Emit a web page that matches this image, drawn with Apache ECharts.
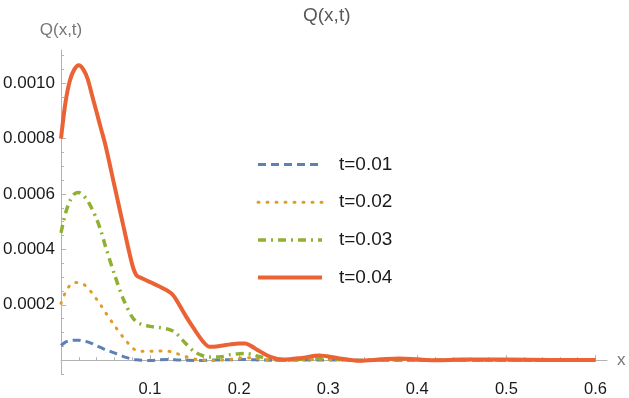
<!DOCTYPE html>
<html>
<head>
<meta charset="utf-8">
<script src="https://cdn.jsdelivr.net/npm/echarts@6/dist/echarts.min.js"></script>
<style>
  html, body { margin: 0; padding: 0; background: #fff; }
  #main { width: 629px; height: 398px; }
</style>
</head>
<body>
<div id="main"></div>
<script>
var SCALE = 1e-4;
var xs = [0, 0.005, 0.01, 0.015, 0.02, 0.025, 0.03, 0.035, 0.04, 0.045,
  0.05, 0.06, 0.07, 0.08, 0.085, 0.09, 0.1, 0.11, 0.12, 0.125,
  0.13, 0.14, 0.15, 0.16, 0.167, 0.18, 0.19, 0.2, 0.207, 0.215,
  0.22, 0.235, 0.25, 0.27, 0.29, 0.31, 0.335, 0.36, 0.38, 0.4,
  0.42, 0.45, 0.5, 0.55, 0.6];
var q001 = [0.53, 0.65, 0.7, 0.72, 0.72, 0.69, 0.66, 0.6, 0.52, 0.45,
  0.38, 0.26, 0.13, 0.04, 0.015, 0.0, -0.01, 0.01, 0.02, 0.015,
  0.01, 0.0, -0.01, -0.01, 0.0, 0.01, 0.015, 0.02, 0.02, 0.015,
  0.01, 0.0, 0.0, 0.005, 0.01, 0.005, 0.0, 0.0, 0.0, 0.0,
  0.0, 0.0, 0.0, 0.0, 0.0];
var q002 = [2.05, 2.45, 2.7, 2.8, 2.8, 2.75, 2.6, 2.42, 2.2, 1.97,
  1.72, 1.25, 0.82, 0.45, 0.34, 0.32, 0.32, 0.33, 0.32, 0.3,
  0.24, 0.13, 0.04, 0.0, -0.02, 0.0, 0.03, 0.07, 0.09, 0.08,
  0.06, 0.01, -0.01, 0.01, 0.03, 0.01, 0.0, 0.005, 0.01, 0.0,
  0.0, 0.0, 0.0, 0.0, 0.0];
var q003 = [4.6, 5.3, 5.75, 6.0, 6.05, 5.95, 5.75, 5.45, 5.1, 4.65,
  4.1, 3.1, 2.2, 1.55, 1.38, 1.3, 1.22, 1.18, 1.12, 1.06,
  0.95, 0.6, 0.3, 0.15, 0.11, 0.12, 0.2, 0.23, 0.24, 0.2,
  0.15, 0.05, 0.0, 0.03, 0.06, 0.03, -0.01, 0.01, 0.02, 0.01,
  0.0, 0.005, 0.005, 0.0, 0.0];
var q004 = [8.0, 9.3, 10.1, 10.5, 10.65, 10.5, 10.15, 9.55, 8.95, 8.35,
  7.75, 6.3, 4.85, 3.45, 3.05, 2.97, 2.82, 2.67, 2.5, 2.38,
  2.15, 1.6, 1.1, 0.65, 0.48, 0.52, 0.57, 0.6, 0.6, 0.48,
  0.38, 0.12, 0.02, 0.08, 0.17, 0.08, -0.02, 0.03, 0.06, 0.03,
  0.0, 0.02, 0.02, 0.01, 0.01];
var seriesNames = ["t=0.01", "t=0.02", "t=0.03", "t=0.04"];

var xMajorTicks = [0.1, 0.2, 0.3, 0.4, 0.5, 0.6];
var xMinorTicks = [0.02, 0.04, 0.06, 0.08, 0.12, 0.14, 0.16, 0.18, 0.22, 0.24, 0.26, 0.28,
  0.32, 0.34, 0.36, 0.38, 0.42, 0.44, 0.46, 0.48, 0.52, 0.54, 0.56, 0.58];
var yMajorTicks = [0.0002, 0.0004, 0.0006, 0.0008, 0.0010];
var yMinorTicks = [-0.00005, 0.00005, 0.0001, 0.00015, 0.00025, 0.0003, 0.00035,
  0.00045, 0.0005, 0.00055, 0.00065, 0.0007, 0.00075, 0.00085, 0.0009, 0.00095,
  0.00105, 0.0011];

function pairs(vals) {
  var out = [];
  for (var i = 0; i < xs.length; i++) {
    out.push([xs[i], vals[i] * SCALE]);
  }
  return out;
}

var FONT = "Liberation Sans, Arial, sans-serif";
var AXIS_GREY = "#b3b3b3";
var X_MIN = 0, X_MAX = 0.613, Y_MIN = -0.00005, Y_MAX = 0.00112;

var myChart = echarts.init(document.getElementById("main"));
myChart.setOption({
  animation: false,
  title: {
    text: "Q(x,t)",
    left: 298,
    top: 1,
    textStyle: { fontFamily: FONT, fontSize: 19, fontWeight: "normal", color: "#595959" }
  },
  grid: { left: 58, right: 22, top: 50, bottom: 7.5 },
  legend: {
    orient: "vertical",
    left: 256,
    top: 155,
    padding: 0,
    itemWidth: 64,
    itemHeight: 20,
    itemGap: 18.7,
    data: seriesNames,
    itemStyle: { opacity: 0 },
    lineStyle: { width: "inherit" },
    textStyle: { fontFamily: FONT, fontSize: 19, color: "#1a1a1a", padding: [0, 0, 0, 12] }
  },
  xAxis: [
    {
      type: "value",
      min: X_MIN,
      max: X_MAX,
      position: "bottom",
      name: "x",
      nameLocation: "end",
      nameGap: 10,
      nameTextStyle: { fontFamily: FONT, fontSize: 17, color: "#777" },
      axisLine: { onZero: true, lineStyle: { color: AXIS_GREY, width: 1 } },
      axisTick: { show: true, inside: true, length: 5, customValues: xMajorTicks, lineStyle: { color: AXIS_GREY } },
      axisLabel: {
        customValues: xMajorTicks,
        margin: 7,
        fontFamily: FONT,
        fontSize: 16.5,
        color: "#1a1a1a",
        formatter: function (v) { return v.toFixed(1); }
      },
      splitLine: { show: false }
    },
    {
      type: "value",
      min: X_MIN,
      max: X_MAX,
      position: "bottom",
      axisLine: { show: false, onZero: true },
      axisTick: { show: true, inside: true, length: 3, customValues: xMinorTicks, lineStyle: { color: AXIS_GREY } },
      axisLabel: { show: false },
      splitLine: { show: false }
    }
  ],
  yAxis: [
    {
      type: "value",
      min: Y_MIN,
      max: Y_MAX,
      position: "left",
      name: "Q(x,t)",
      nameLocation: "end",
      nameGap: 11,
      nameTextStyle: { fontFamily: FONT, fontSize: 17, color: "#777", align: "center" },
      axisLine: { show: true, onZero: true, lineStyle: { color: AXIS_GREY, width: 1 } },
      axisTick: { show: true, inside: true, length: 5, customValues: yMajorTicks, lineStyle: { color: AXIS_GREY } },
      axisLabel: {
        customValues: yMajorTicks,
        margin: 6,
        fontFamily: FONT,
        fontSize: 17,
        color: "#1a1a1a",
        formatter: function (v) { return v.toFixed(4); }
      },
      splitLine: { show: false }
    },
    {
      type: "value",
      min: Y_MIN,
      max: Y_MAX,
      position: "left",
      axisLine: { show: false, onZero: true },
      axisTick: { show: true, inside: true, length: 3, customValues: yMinorTicks, lineStyle: { color: AXIS_GREY } },
      axisLabel: { show: false },
      splitLine: { show: false }
    }
  ],
  series: [
    {
      name: seriesNames[0],
      type: "line",
      data: pairs(q001),
      showSymbol: false,
      symbol: "none",
      smooth: 0.3,
      lineStyle: { color: "#5e81b5", width: 3, type: [8, 5] },
      itemStyle: { color: "#5e81b5" },
      z: 3
    },
    {
      name: seriesNames[1],
      type: "line",
      data: pairs(q002),
      showSymbol: false,
      symbol: "none",
      smooth: 0.3,
      lineStyle: { color: "#e19c24", width: 3, type: [1, 8], cap: "round" },
      itemStyle: { color: "#e19c24" },
      z: 4
    },
    {
      name: seriesNames[2],
      type: "line",
      data: pairs(q003),
      showSymbol: false,
      symbol: "none",
      smooth: 0.3,
      lineStyle: { color: "#8fb032", width: 3.5, type: [8, 5, 2, 5] },
      itemStyle: { color: "#8fb032" },
      z: 5
    },
    {
      name: seriesNames[3],
      type: "line",
      data: pairs(q004),
      showSymbol: false,
      symbol: "none",
      smooth: 0.3,
      lineStyle: { color: "#eb6235", width: 4 },
      itemStyle: { color: "#eb6235" },
      z: 6
    }
  ]
});
</script>
</body>
</html>
